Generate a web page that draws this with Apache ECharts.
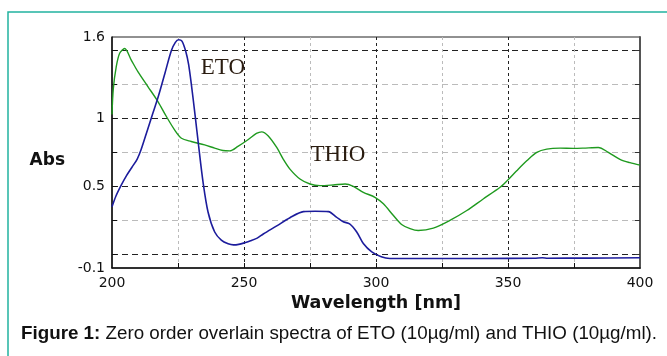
<!DOCTYPE html>
<html><head><meta charset="utf-8">
<script src="https://cdn.jsdelivr.net/npm/echarts@6/dist/echarts.min.js"></script>
<style>html,body{margin:0;padding:0;background:#fff}#c{width:667px;height:356px}</style>
</head><body><div id="c"></div><script>
const etoWavelength = [200, 201.5, 203.5, 205.5, 207.5, 209.5, 211, 213.5, 215.5, 217.5, 220, 222.5, 224, 225.2, 226.5, 228, 229, 230, 231.5, 232.8, 234.5, 236.4, 238.9, 241.4, 244, 246, 248, 250.3, 252.5, 255, 257.3, 262.4, 267.4, 272.5, 277, 282, 285, 287.6, 290, 292.7, 295.2, 298.4, 302, 305.3, 320, 340, 360, 363, 365, 380, 400];
const etoAbs = [0.35, 0.43, 0.51, 0.58, 0.64, 0.70, 0.77, 0.92, 1.04, 1.16, 1.33, 1.50, 1.56, 1.58, 1.57, 1.49, 1.40, 1.26, 1.02, 0.80, 0.53, 0.31, 0.165, 0.105, 0.078, 0.07, 0.074, 0.086, 0.10, 0.12, 0.15, 0.21, 0.27, 0.315, 0.318, 0.315, 0.275, 0.24, 0.225, 0.165, 0.08, 0.018, -0.018, -0.03, -0.03, -0.03, -0.028, -0.025, -0.028, -0.027, -0.025];
const thioWavelength = [200, 200.5, 201.6, 202.9, 204.8, 207.3, 209.8, 213.6, 217.4, 220.6, 223.7, 226.3, 230, 235.1, 238.9, 242, 244.6, 247.7, 251.5, 254.7, 256.7, 259.2, 262.4, 264.9, 267.4, 271.2, 275, 278.8, 283.8, 288.3, 291.4, 295.2, 299.6, 302.8, 306.6, 309.7, 312.9, 316, 321.7, 328, 334.4, 340.6, 347, 349.7, 353.3, 357.1, 360.9, 364.7, 369.7, 374.7, 378.5, 384.2, 388, 392.4, 396.2, 400];
const thioAbs = [1.03, 1.22, 1.38, 1.48, 1.515, 1.43, 1.345, 1.235, 1.125, 1.015, 0.917, 0.855, 0.831, 0.806, 0.782, 0.765, 0.762, 0.795, 0.844, 0.89, 0.902, 0.872, 0.787, 0.70, 0.628, 0.555, 0.518, 0.506, 0.511, 0.518, 0.501, 0.457, 0.42, 0.372, 0.286, 0.22, 0.19, 0.176, 0.193, 0.25, 0.323, 0.408, 0.494, 0.543, 0.616, 0.689, 0.751, 0.775, 0.782, 0.780, 0.782, 0.787, 0.751, 0.70, 0.675, 0.657];
const yLabelValues = [-0.1, 0.5, 1, 1.6];
const yTickValues = [0, 0.25, 0.5, 0.75, 1, 1.25, 1.5];
const xLabelValues = [200, 250, 300, 350, 400];
const xTickValues = [225, 250, 275, 300, 325, 350, 375];
const etoLabelAt = [242, 1.37];
const thioLabelAt = [285.6, 0.73];

const zip = (xs, ys) => xs.map((x, i) => [x, ys[i]]);
const chart = echarts.init(document.getElementById('c'));
const lblFont = {fontFamily: 'DejaVu Sans', fontSize: 14, color: '#111'};
const annot = (text, coord) => ({
  symbol: 'circle', symbolSize: 1, itemStyle: {color: 'rgba(0,0,0,0)'},
  silent: true,
  data: [{coord: coord, value: text}],
  label: {show: true, position: 'inside', formatter: text, fontFamily: 'Liberation Serif', fontSize: 23,
    color: '#2a1c10', textShadowColor: 'rgba(230,140,40,0.7)', textShadowOffsetX: -1, textShadowBlur: 0}
});
chart.setOption({
  animation: false,
  title: {
    left: 21, top: 324, padding: 0,
    text: '{b|Figure 1:} Zero order overlain spectra of ETO (10µg/ml) and THIO (10µg/ml).',
    textStyle: {fontFamily: 'Liberation Sans', fontSize: 18.8, color: '#111', fontWeight: 'normal',
      rich: {b: {fontFamily: 'Liberation Sans', fontSize: 18.8, fontWeight: 'bold', color: '#111'}}}
  },
  graphic: [{type: 'rect', shape: {x: 8, y: 12, width: 800, height: 500}, style: {fill: 'none', stroke: '#22b3a0', lineWidth: 1.5}, silent: true}],
  grid: {left: 112, right: 27, top: 37, bottom: 88, show: true, borderColor: '#222', borderWidth: 1, backgroundColor: 'transparent'},
  xAxis: [{
    type: 'value', min: 200, max: 400,
    name: 'Wavelength [nm]', nameLocation: 'middle', nameGap: 22,
    nameTextStyle: {fontFamily: 'DejaVu Sans', fontWeight: 'bold', fontSize: 17.5, color: '#111'},
    axisLine: {show: true, onZero: false, lineStyle: {color: '#111', width: 1.5}},
    axisTick: {show: true, inside: true, length: 5, customValues: xTickValues, lineStyle: {color: '#111'}},
    axisLabel: Object.assign({customValues: xLabelValues, margin: 8}, lblFont),
    splitLine: {show: true, lineStyle: {color: ['#bbbbbb', '#222222'], type: [3, 3], width: 1}}
  }],
  yAxis: [{
    type: 'value', min: -0.1, max: 1.6,
    name: 'Abs', nameLocation: 'middle', nameRotate: 0, nameGap: 47,
    nameTextStyle: {fontFamily: 'DejaVu Sans', fontWeight: 'bold', fontSize: 17, color: '#111', verticalAlign: 'top'},
    axisLine: {show: true, onZero: false, lineStyle: {color: '#111', width: 1.5}},
    axisTick: {show: true, inside: true, length: 5, customValues: yTickValues, lineStyle: {color: '#111'}},
    axisLabel: Object.assign({customValues: yLabelValues, margin: 7, formatter: v => String(Math.round(v * 10) / 10)}, lblFont),
    splitLine: {show: true, lineStyle: {color: ['#222222', '#bbbbbb'], type: [6, 4], width: 1}}
  }, {
    type: 'value', min: -0.1, max: 1.6, position: 'right',
    axisLine: {show: true, onZero: false, lineStyle: {color: '#555', width: 2}},
    axisTick: {show: true, inside: true, length: 5, customValues: yTickValues, lineStyle: {color: '#333'}},
    axisLabel: {show: false}, splitLine: {show: false}
  }],
  series: [{
    name: 'ETO', type: 'line', data: zip(etoWavelength, etoAbs), showSymbol: false, smooth: 0.3,
    lineStyle: {color: '#1c1c9c', width: 1.6}, itemStyle: {color: '#1c1c9c'}, z: 3,
    markPoint: annot('ETO', etoLabelAt)
  }, {
    name: 'THIO', type: 'line', data: zip(thioWavelength, thioAbs), showSymbol: false, smooth: 0.3,
    lineStyle: {color: '#1f9a1f', width: 1.4}, itemStyle: {color: '#1f9a1f'}, z: 2,
    markPoint: annot('THIO', thioLabelAt)
  }]
});
</script></body></html>
